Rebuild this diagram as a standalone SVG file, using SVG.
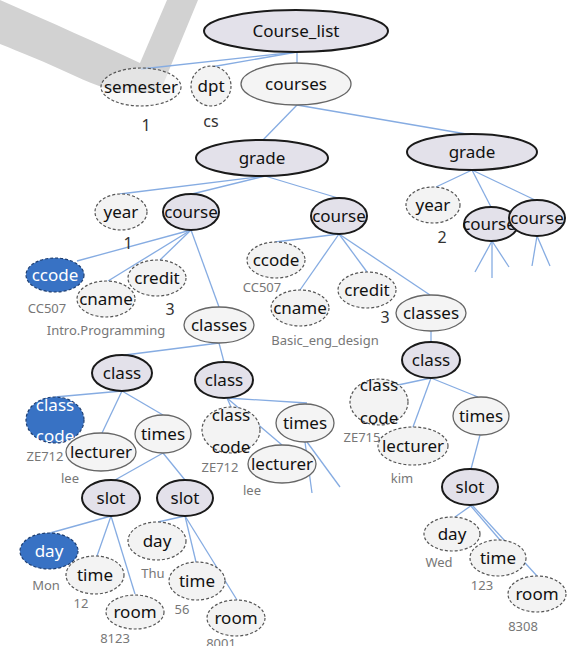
<svg xmlns="http://www.w3.org/2000/svg" width="580" height="646" viewBox="0 0 580 646">
  <style>
    .key { fill: #e3e1ea; stroke: #1a1a1a; stroke-width: 2; }
    .opt { fill: #f3f3f3; stroke: #555; stroke-width: 1.2; stroke-dasharray: 3 2; }
    .plain { fill: #f4f4f4; stroke: #666; stroke-width: 1.3; }
    .sel { fill: #3872c4; stroke: #1e3e70; stroke-width: 1.2; stroke-dasharray: 3 2; }
    text { font-family: "Noto Sans", "DejaVu Sans", sans-serif; text-anchor: middle; }
    .t { font-size: 17px; fill: #111; }
    .tw { font-size: 17px; fill: #fff; }
    .v { font-size: 13px; fill: #777; }
    .num { font-size: 16px; fill: #333; }
    #edges line { stroke: #86ace2; stroke-width: 1.3; }
  </style>

  <rect width="580" height="646" fill="#ffffff"/>

  <!-- grey swoosh in the top-left corner -->
  <path d="M0,0 C50,22 100,44 140,63 L167,0 L198,0 L160,92 C125,96 100,88 75,76 C45,62 20,52 0,44 Z" fill="#d2d2d2"/>

  <g id="edges">
    <line x1="297" y1="52" x2="141" y2="69"/>
    <line x1="297" y1="52" x2="211" y2="67"/>
    <line x1="297" y1="52" x2="297" y2="63"/>
    <line x1="297" y1="105" x2="262" y2="141"/>
    <line x1="297" y1="105" x2="472" y2="135"/>
    <line x1="265" y1="176" x2="120" y2="194"/>
    <line x1="265" y1="176" x2="192" y2="194"/>
    <line x1="265" y1="176" x2="338" y2="198"/>
    <line x1="472" y1="170" x2="436" y2="187"/>
    <line x1="472" y1="170" x2="491" y2="207"/>
    <line x1="472" y1="170" x2="535" y2="200"/>
    <line x1="492" y1="241" x2="475" y2="272"/>
    <line x1="492" y1="241" x2="492" y2="278"/>
    <line x1="492" y1="241" x2="509" y2="267"/>
    <line x1="537" y1="236" x2="532" y2="266"/>
    <line x1="537" y1="236" x2="550" y2="266"/>
    <line x1="191" y1="230" x2="77" y2="261"/>
    <line x1="191" y1="230" x2="108" y2="281"/>
    <line x1="191" y1="230" x2="160" y2="260"/>
    <line x1="191" y1="230" x2="219" y2="307"/>
    <line x1="339" y1="234" x2="275" y2="242"/>
    <line x1="339" y1="234" x2="300" y2="290"/>
    <line x1="339" y1="234" x2="367" y2="272"/>
    <line x1="339" y1="234" x2="430" y2="295"/>
    <line x1="219" y1="343" x2="125" y2="355"/>
    <line x1="219" y1="343" x2="224" y2="362"/>
    <line x1="431" y1="331" x2="431" y2="342"/>
    <line x1="122" y1="391" x2="55" y2="397"/>
    <line x1="122" y1="391" x2="102" y2="433"/>
    <line x1="122" y1="391" x2="163" y2="415"/>
    <line x1="227" y1="398" x2="231" y2="407"/>
    <line x1="227" y1="398" x2="282" y2="445"/>
    <line x1="227" y1="398" x2="307" y2="403"/>
    <line x1="305" y1="442" x2="312" y2="493"/>
    <line x1="307" y1="442" x2="340" y2="487"/>
    <line x1="163" y1="453" x2="115" y2="480"/>
    <line x1="163" y1="453" x2="185" y2="480"/>
    <line x1="111" y1="516" x2="50" y2="533"/>
    <line x1="111" y1="516" x2="97" y2="556"/>
    <line x1="111" y1="516" x2="135" y2="594"/>
    <line x1="185" y1="516" x2="158" y2="522"/>
    <line x1="185" y1="516" x2="196" y2="562"/>
    <line x1="185" y1="516" x2="237" y2="600"/>
    <line x1="431" y1="378" x2="398" y2="385"/>
    <line x1="431" y1="378" x2="413" y2="427"/>
    <line x1="431" y1="378" x2="478" y2="397"/>
    <line x1="480" y1="435" x2="471" y2="469"/>
    <line x1="472" y1="505" x2="455" y2="517"/>
    <line x1="470" y1="505" x2="500" y2="540"/>
    <line x1="472" y1="505" x2="537" y2="576"/>
  </g>

  <!-- top levels -->
  <g id="course_list"><ellipse class="key" cx="296" cy="31" rx="92" ry="21"/><text class="t" x="296" y="37">Course_list</text></g>
  <g id="semester"><ellipse class="opt" cx="141" cy="87" rx="40" ry="19" fill-opacity="0.55"/><text class="t" x="141" y="93">semester</text><text class="num" x="146" y="131">1</text></g>
  <g id="dpt"><ellipse class="opt" cx="211" cy="86" rx="20" ry="20"/><text class="t" x="211" y="92">dpt</text><text class="num" x="211" y="127">cs</text></g>
  <g id="courses"><ellipse class="plain" cx="296" cy="84" rx="55" ry="21"/><text class="t" x="296" y="90">courses</text></g>

  <g id="grade_1"><ellipse class="key" cx="262" cy="158" rx="66" ry="18"/><text class="t" x="262" y="164">grade</text></g>
  <g id="grade_2"><ellipse class="key" cx="472" cy="152" rx="65" ry="18"/><text class="t" x="472" y="158">grade</text></g>

  <!-- grade 1 -->
  <g id="year_1"><ellipse class="opt" cx="121" cy="212" rx="26" ry="18"/><text class="t" x="121" y="218">year</text><text class="num" x="128" y="249">1</text></g>
  <g id="course_1"><ellipse class="key" cx="191" cy="212" rx="28" ry="18"/><text class="t" x="191" y="218">course</text></g>
  <g id="course_2"><ellipse class="key" cx="339" cy="216" rx="28" ry="18"/><text class="t" x="339" y="222">course</text></g>

  <!-- grade 2 -->
  <g id="year_2"><ellipse class="opt" cx="433" cy="205" rx="27" ry="18"/><text class="t" x="433" y="211">year</text><text class="num" x="442" y="243">2</text></g>
  <g id="course_3"><ellipse class="key" cx="491" cy="224" rx="27" ry="17"/><text class="t" x="489" y="230">course</text></g>
  <g id="course_4"><ellipse class="key" cx="537" cy="218" rx="28" ry="18"/><text class="t" x="537" y="224">course</text></g>

  <!-- course 1 -->
  <g id="ccode_1"><ellipse class="sel" cx="55" cy="275" rx="29" ry="17"/><text class="tw" x="55" y="281">ccode</text><text class="v" x="47" y="313">CC507</text></g>
  <g id="cname_1"><ellipse class="opt" cx="106" cy="299" rx="29" ry="18"/><text class="t" x="106" y="305">cname</text><text class="v" x="106" y="335">Intro.Programming</text></g>
  <g id="credit_1"><ellipse class="opt" cx="157" cy="278" rx="29" ry="18"/><text class="t" x="157" y="284">credit</text><text class="num" x="170" y="315">3</text></g>
  <g id="classes_1"><ellipse class="plain" cx="219" cy="325" rx="35" ry="18"/><text class="t" x="219" y="331">classes</text></g>

  <!-- course 2 -->
  <g id="ccode_2"><ellipse class="opt" cx="276" cy="260" rx="29" ry="18"/><text class="t" x="276" y="266">ccode</text><text class="v" x="262" y="292">CC507</text></g>
  <g id="cname_2"><ellipse class="opt" cx="300" cy="308" rx="29" ry="18"/><text class="t" x="300" y="314">cname</text><text class="v" x="325" y="345">Basic_eng_design</text></g>
  <g id="credit_2"><ellipse class="opt" cx="367" cy="290" rx="29" ry="18"/><text class="t" x="367" y="296">credit</text><text class="num" x="385" y="323">3</text></g>
  <g id="classes_2"><ellipse class="plain" cx="431" cy="313" rx="35" ry="18"/><text class="t" x="431" y="319">classes</text></g>

  <!-- classes 1 -->
  <g id="class_1"><ellipse class="key" cx="122" cy="373" rx="30" ry="18"/><text class="t" x="122" y="379">class</text></g>
  <g id="class_2"><ellipse class="key" cx="224" cy="380" rx="29" ry="18"/><text class="t" x="224" y="386">class</text></g>

  <g id="classcode_1"><ellipse class="sel" cx="55" cy="420" rx="29" ry="23"/><text class="tw" x="55" y="411">class</text><text class="tw" x="55" y="442">code</text><text class="v" x="45" y="461">ZE712</text></g>
  <g id="lecturer_1"><ellipse class="plain" cx="101" cy="452" rx="35" ry="19"/><text class="t" x="101" y="458">lecturer</text><text class="v" x="70" y="483">lee</text></g>
  <g id="times_1"><ellipse class="plain" cx="163" cy="434" rx="28" ry="19"/><text class="t" x="163" y="440">times</text></g>

  <g id="classcode_2"><ellipse class="opt" cx="231" cy="430" rx="29" ry="23"/><text class="t" x="231" y="421">class</text><text class="t" x="231" y="453">code</text><text class="v" x="220" y="472">ZE712</text></g>
  <g id="lecturer_2"><ellipse class="plain" cx="282" cy="464" rx="34" ry="19"/><text class="t" x="282" y="470">lecturer</text><text class="v" x="252" y="495">lee</text></g>
  <g id="times_2"><ellipse class="plain" cx="305" cy="423" rx="29" ry="19"/><text class="t" x="305" y="429">times</text></g>

  <!-- times 1 -->
  <g id="slot_1"><ellipse class="key" cx="111" cy="498" rx="29" ry="18"/><text class="t" x="111" y="504">slot</text></g>
  <g id="slot_2"><ellipse class="key" cx="185" cy="498" rx="28" ry="18"/><text class="t" x="185" y="504">slot</text></g>

  <g id="day_1"><ellipse class="sel" cx="49" cy="551" rx="29" ry="18"/><text class="tw" x="49" y="557">day</text><text class="v" x="46" y="590">Mon</text></g>
  <g id="time_1"><ellipse class="opt" cx="95" cy="575" rx="29" ry="19"/><text class="t" x="95" y="581">time</text><text class="v" x="81" y="608">12</text></g>
  <g id="room_1"><ellipse class="opt" cx="135" cy="612" rx="29" ry="17"/><text class="t" x="135" y="618">room</text><text class="v" x="115" y="643">8123</text></g>

  <g id="day_2"><ellipse class="opt" cx="157" cy="541" rx="29" ry="19"/><text class="t" x="157" y="547">day</text><text class="v" x="153" y="578">Thu</text></g>
  <g id="time_2"><ellipse class="opt" cx="197" cy="581" rx="28" ry="19"/><text class="t" x="197" y="587">time</text><text class="v" x="182" y="614">56</text></g>
  <g id="room_2"><ellipse class="opt" cx="236" cy="618" rx="29" ry="18"/><text class="t" x="236" y="624">room</text><text class="v" x="221" y="648">8001</text></g>

  <!-- classes 2 -->
  <g id="class_3"><ellipse class="key" cx="431" cy="360" rx="29" ry="18"/><text class="t" x="431" y="366">class</text></g>
  <g id="classcode_3"><ellipse class="opt" cx="379" cy="402" rx="29" ry="23"/><text class="t" x="379" y="391">class</text><text class="t" x="379" y="424">code</text><text class="v" x="362" y="442">ZE715</text></g>
  <g id="lecturer_3"><ellipse class="opt" cx="413" cy="446" rx="35" ry="19"/><text class="t" x="413" y="452">lecturer</text><text class="v" x="402" y="483">kim</text></g>
  <g id="times_3"><ellipse class="plain" cx="481" cy="416" rx="28" ry="19"/><text class="t" x="481" y="422">times</text></g>

  <g id="slot_3"><ellipse class="key" cx="470" cy="487" rx="28" ry="18"/><text class="t" x="470" y="493">slot</text></g>
  <g id="day_3"><ellipse class="opt" cx="452" cy="534" rx="28" ry="17"/><text class="t" x="452" y="540">day</text><text class="v" x="439" y="567">Wed</text></g>
  <g id="time_3"><ellipse class="opt" cx="498" cy="558" rx="28" ry="18"/><text class="t" x="498" y="564">time</text><text class="v" x="482" y="590">123</text></g>
  <g id="room_3"><ellipse class="opt" cx="537" cy="594" rx="29" ry="18"/><text class="t" x="537" y="600">room</text><text class="v" x="523" y="631">8308</text></g>
</svg>
